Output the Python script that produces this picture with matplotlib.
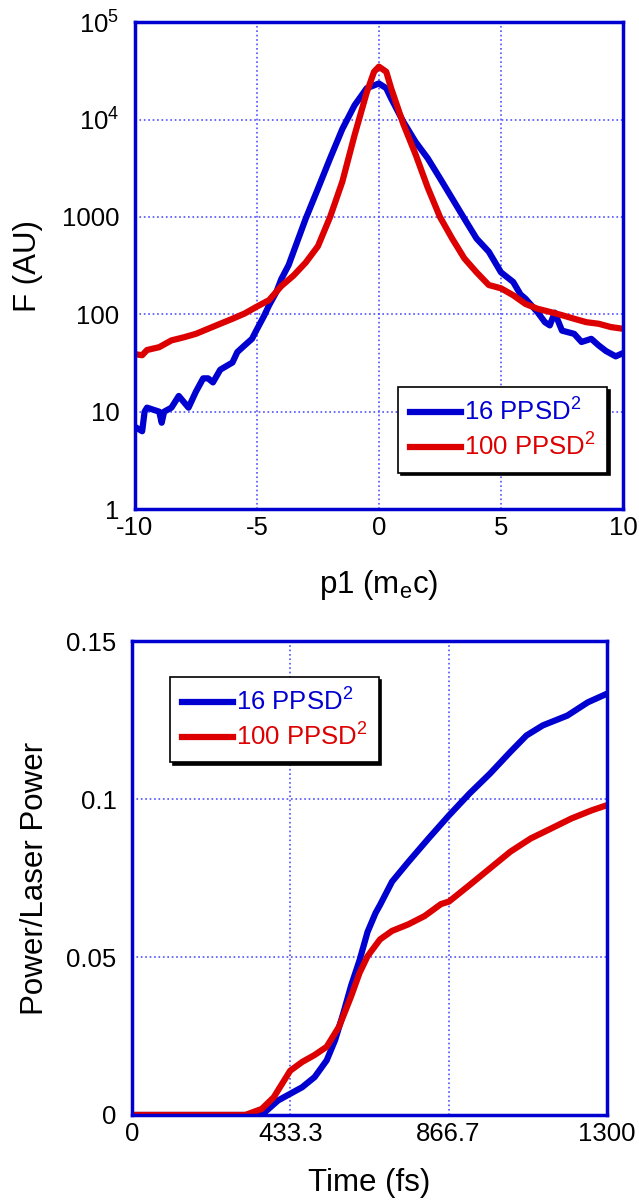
import matplotlib
matplotlib.use("Agg")
import matplotlib.pyplot as plt
from matplotlib.ticker import FixedLocator, NullLocator

plt.rcParams['font.family'] = ['Liberation Sans', 'DejaVu Sans']
plt.rcParams['mathtext.fontset'] = 'custom'
plt.rcParams['mathtext.rm'] = 'Liberation Sans'
plt.rcParams['mathtext.it'] = 'Liberation Sans'
plt.rcParams['mathtext.bf'] = 'Liberation Sans'

BLUE = '#0000d0'
RED = '#dd0000'
GRID = '#5050ff'

# --- top panel: distribution F(p1) ---
p_blue = [-10, -9.7, -9.6, -9.5, -9, -8.9, -8.8, -8.5, -8.2, -7.8, -7.5, -7.2, -7, -6.8, -6.5,
          -6, -5.8, -5.5, -5.2, -5, -4.7, -4.5, -4.2, -4, -3.7, -3.3, -3, -2.5, -2, -1.5,
          -1, -0.5, 0, 0.3, 0.5, 1, 1.5, 2, 2.5, 3, 3.5, 4, 4.5, 5, 5.5, 5.8, 6, 6.5,
          6.8, 7, 7.2, 7.5, 8, 8.3, 8.7, 9, 9.3, 9.7, 10]
f_blue = [7, 6.3, 10, 11, 10, 7.7, 10, 11, 14.5, 11, 16, 22, 22, 20, 27,
          32, 41, 48, 56, 70, 97, 124, 170, 230, 320, 600, 960, 1950, 4000, 8000,
          14000, 21000, 23500, 21000, 16500, 9500, 5900, 4000, 2500, 1550, 960, 600, 440, 270, 215, 160, 145, 105,
          83, 77, 104, 68, 63, 52, 56, 48, 42, 37, 40]

p_red = [-10, -9.7, -9.5, -9, -8.5, -8, -7.5, -7, -6.5, -6, -5.5, -5, -4.5, -4, -3.5,
         -3, -2.5, -2, -1.5, -1, -0.5, -0.2, 0, 0.3, 0.5, 1, 1.5, 2, 2.5, 3, 3.5, 4,
         4.5, 5, 5.5, 6, 6.5, 7, 7.5, 8, 8.5, 9, 9.5, 10]
f_red = [39, 38, 43, 46, 54, 58, 63, 71, 80, 90, 102, 120, 140, 195, 250,
         340, 500, 1000, 2300, 6900, 19000, 31000, 35000, 31000, 21000, 9000, 4400, 2000, 1000, 600, 375, 270,
         200, 185, 157, 128, 114, 106, 98, 90, 83, 80, 74, 71]

# --- bottom panel: power vs time ---
t_blue = [0, 355, 400, 433, 466, 500, 533, 556, 578, 600, 623, 645, 667, 679, 712, 757,
          812, 868, 924, 980, 1036, 1080, 1125, 1192, 1248, 1300]
pw_blue = [0, 0, 0.0046, 0.0067, 0.0088, 0.012, 0.0173, 0.0237, 0.032, 0.041, 0.049, 0.058, 0.064,
           0.0665, 0.0739, 0.0802, 0.0876, 0.0949, 0.1018, 0.1081, 0.115, 0.1202, 0.1234, 0.1265, 0.1307, 0.1334]

t_red = [0, 310, 355, 388, 411, 433, 466, 500, 533, 567, 600, 623, 645, 679, 712, 757, 801, 846,
         868, 924, 980, 1036, 1092, 1147, 1203, 1259, 1300]
pw_red = [0, 0, 0.0019, 0.0056, 0.0099, 0.014, 0.0168, 0.019, 0.0216, 0.028, 0.0376, 0.045, 0.0503,
          0.0556, 0.0583, 0.0604, 0.063, 0.0668, 0.0676, 0.0728, 0.0781, 0.0834, 0.0876, 0.0907, 0.0939,
          0.0965, 0.0981]

labels = ['16 PPSD$^{2}$', '100 PPSD$^{2}$']

fig = plt.figure(figsize=(6.39, 12.02), dpi=100)


def style(ax):
    for s in ax.spines.values():
        s.set_color(BLUE)
        s.set_linewidth(2.5)
    ax.grid(True, color=GRID, linestyle=':', linewidth=1.2)
    ax.tick_params(length=0, labelsize=18.5)
    ax.tick_params(axis='y', pad=11)
    ax.tick_params(axis='x', pad=5)


def legend(ax, loc):
    leg = ax.legend(loc=loc, fontsize=18.5, frameon=True, fancybox=False,
                    edgecolor='black', shadow={'color': 'black', 'alpha': 1},
                    handlelength=2.0, handletextpad=0.1, borderpad=0.45, labelspacing=0.3)
    leg.get_frame().set_linewidth(1.2)
    for txt, c in zip(leg.get_texts(), [BLUE, RED]):
        txt.set_color(c)
    return leg


ax1 = fig.add_axes([0.211, 0.5765, 0.764, 0.405])
ax1.plot(p_blue, f_blue, color=BLUE, lw=4.5, label=labels[0])
ax1.plot(p_red, f_red, color=RED, lw=4.5, label=labels[1])
ax1.set_yscale('log')
ax1.set_xlim(-10, 10)
ax1.set_ylim(1, 1e5)
ax1.xaxis.set_major_locator(FixedLocator([-10, -5, 0, 5, 10]))
ax1.set_xticklabels(['-10', '-5', '0', '5', '10'])
ax1.yaxis.set_major_locator(FixedLocator([1, 10, 100, 1000, 1e4, 1e5]))
ax1.yaxis.set_minor_locator(NullLocator())
ax1.set_yticklabels(['1', '10', '100', '1000', '10$^{4}$', '10$^{5}$'])
style(ax1)
ax1.set_xlabel('p1 (m$_{e}$c)', fontsize=22.5, labelpad=20)
ax1.set_ylabel('F (AU)', fontsize=22.5, labelpad=14)
legend(ax1, (0.54, 0.075))

ax2 = fig.add_axes([0.2066, 0.0724, 0.743, 0.394])
ax2.plot(t_blue, pw_blue, color=BLUE, lw=4.5, label=labels[0])
ax2.plot(t_red, pw_red, color=RED, lw=4.5, label=labels[1])
ax2.set_xlim(0, 1300)
ax2.set_ylim(0, 0.15)
ax2.xaxis.set_major_locator(FixedLocator([0, 433.3, 866.7, 1300]))
ax2.set_xticklabels(['0', '433.3', '866.7', '1300'])
ax2.yaxis.set_major_locator(FixedLocator([0, 0.05, 0.1, 0.15]))
ax2.set_yticklabels(['0', '0.05', '0.1', '0.15'])
style(ax2)
ax2.set_xlabel('Time (fs)', fontsize=22.5, labelpad=16)
ax2.set_ylabel('Power/Laser Power', fontsize=22.5, labelpad=12)
legend(ax2, (0.08, 0.745))

fig.savefig('out.png', dpi=100)
